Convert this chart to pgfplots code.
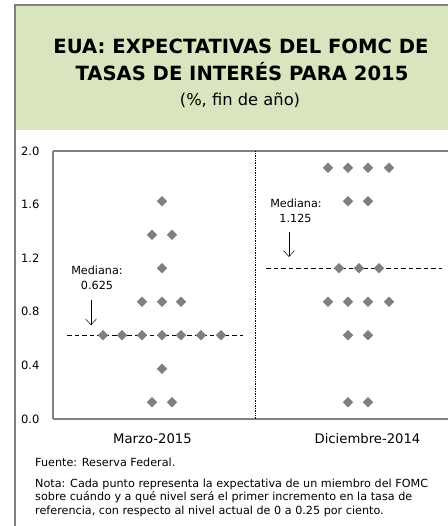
\documentclass[border=0pt]{standalone}
\usepackage{pgfplots}
\pgfplotsset{compat=1.18}
\usepackage{fontspec}
\setmainfont{DejaVu Sans}
\usetikzlibrary{arrows.meta}
\definecolor{panelgreen}{RGB}{216,229,190}
\definecolor{framegray}{RGB}{128,128,128}
\definecolor{dotgray}{RGB}{127,127,127}
\begin{document}
\begin{tikzpicture}[x=1pt,y=1pt]
\useasboundingbox (0,0) rectangle (447,526);
% panel
\fill[panelgreen] (15,521) rectangle (450,395.5);
\draw[framegray,line width=1.1pt] (15,-5) -- (15,521) -- (450,521);
% titles
\node[anchor=base,font=\fontsize{19.6}{24}\selectfont\bfseries,inner sep=0pt] at (241,472) {EUA: EXPECTATIVAS DEL FOMC DE};
\node[anchor=base,font=\fontsize{19.6}{24}\selectfont\bfseries,inner sep=0pt] at (242,445) {TASAS DE INTERÉS PARA 2015};
\node[anchor=base,font=\fontsize{16.3}{19}\selectfont,inner sep=0pt] at (240,420.5) {(\%, fin de año)};
% notes
\node[anchor=base west,font=\fontsize{11.2}{13}\selectfont,inner sep=0pt] at (35,59) {Fuente: Reserva Federal.};
\node[anchor=base west,font=\fontsize{11.2}{13}\selectfont,inner sep=0pt] at (35,38) {Nota: Cada punto representa la expectativa de un miembro del FOMC};
\node[anchor=base west,font=\fontsize{11.2}{13}\selectfont,inner sep=0pt] at (35,25) {sobre cuándo y a qué nivel será el primer incremento en la tasa de};
\node[anchor=base west,font=\fontsize{11.2}{13}\selectfont,inner sep=0pt] at (35,12) {referencia, con respecto al nivel actual de 0 a 0.25 por ciento.};
\begin{axis}[
  at={(53pt,107pt)}, anchor=south west,
  scale only axis, width=397pt, height=268pt,
  xmin=53, xmax=450, ymin=0, ymax=2,
  axis lines*=left,
  axis line style={framegray,line width=1.1pt},
  ytick={0,0.4,0.8,1.2,1.6,2.0},
  /pgf/number format/fixed,
  /pgf/number format/fixed zerofill,
  /pgf/number format/precision=1,
  /pgf/number format/assume math mode=true,
  yticklabel style={font=\fontsize{11.5}{13}\selectfont,anchor=east,xshift=-10pt},
  xtick={152.5,367.5},
  xticklabels={Marzo-2015,Diciembre-2014},
  xticklabel style={font=\fontsize{13.2}{15}\selectfont,anchor=base,yshift=-25pt},
  major tick length=0pt,
  clip=false,
]
\draw[framegray,line width=1.1pt] (axis cs:53,2) -- (axis cs:450,2);
\addplot[black, densely dotted, line width=0.7pt] coordinates {(255,0) (255,2)};
\addplot[black, dash pattern=on 4.5pt off 3pt, line width=0.8pt] coordinates {(67,0.625) (243,0.625)};
\addplot[black, dash pattern=on 4.5pt off 3pt, line width=0.8pt] coordinates {(266,1.125) (442,1.125)};
\addplot[only marks, mark=square*, mark size=3.5pt, mark options={rotate=45, fill=dotgray, draw=dotgray}] table {
x y
152 0.125
172 0.125
162 0.375
103 0.625
122 0.625
142 0.625
162 0.625
181 0.625
201 0.625
221 0.625
142 0.875
162 0.875
181 0.875
162 1.125
152 1.375
172 1.375
162 1.625
};
\addplot[only marks, mark=square*, mark size=3.5pt, mark options={rotate=45, fill=dotgray, draw=dotgray}] table {
x y
348 0.125
368 0.125
348 0.625
368 0.625
328 0.875
348 0.875
368 0.875
389 0.875
339 1.125
359 1.125
379 1.125
348 1.625
368 1.625
328 1.875
348 1.875
368 1.875
389 1.875
};
\draw[-{Straight Barb[length=6pt,width=11pt]}, line width=0.5pt] (axis cs:91,0.888) -- (axis cs:91,0.70);
\draw[-{Straight Barb[length=6pt,width=11pt]}, line width=0.5pt] (axis cs:289,1.398) -- (axis cs:289,1.209);
\node[anchor=base, inner sep=0pt, font=\fontsize{11.2}{13}\selectfont] at (axis cs:97,1.082) {Mediana:};
\node[anchor=base, inner sep=0pt, font=\fontsize{11.2}{13}\selectfont] at (axis cs:97,0.963) {0.625};
\node[anchor=base, inner sep=0pt, font=\fontsize{11.2}{13}\selectfont] at (axis cs:296,1.582) {Mediana:};
\node[anchor=base, inner sep=0pt, font=\fontsize{11.2}{13}\selectfont] at (axis cs:295.5,1.470) {1.125};
\end{axis}
\end{tikzpicture}
\end{document}
